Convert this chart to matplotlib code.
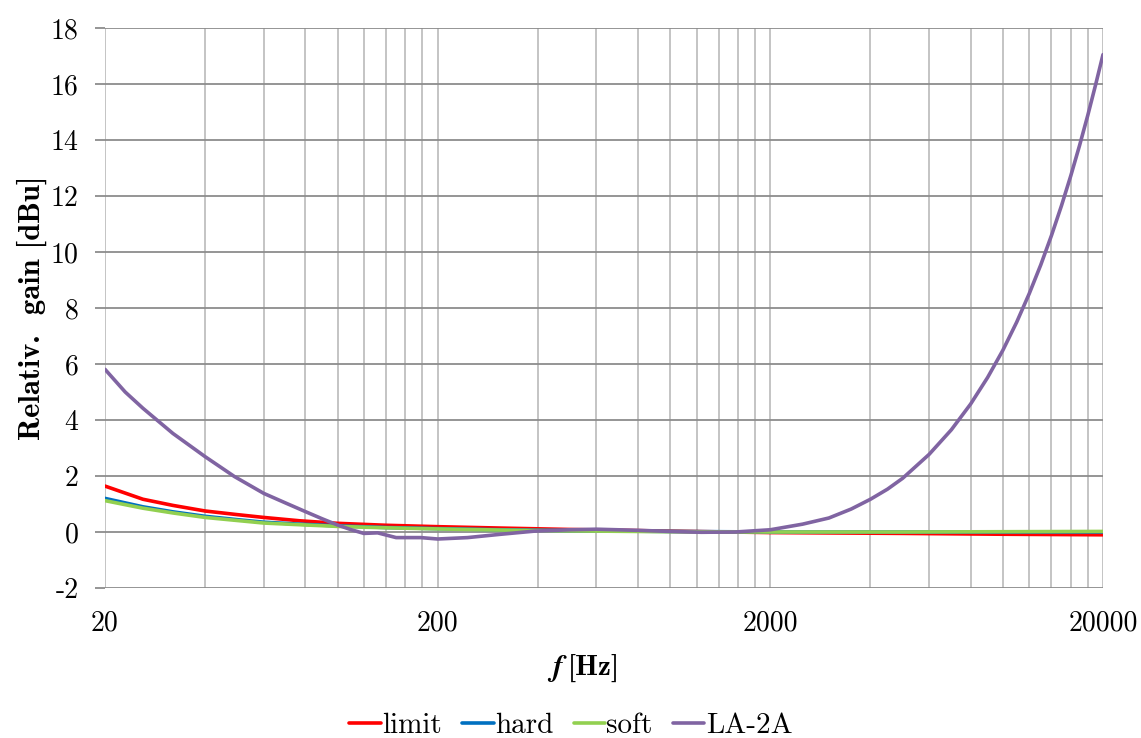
import numpy as np
import matplotlib
matplotlib.use("Agg")
import matplotlib.pyplot as plt
from matplotlib.ticker import FixedLocator, FixedFormatter

# --- DATA ---
freq_lo = [20, 26, 32, 40, 50, 60, 77, 100, 140, 200, 310, 500, 1000, 2000, 5000, 10000, 20000]
limit = [1.64, 1.17, 0.95, 0.75, 0.62, 0.52, 0.40, 0.31, 0.24, 0.19, 0.14, 0.09, 0.03, -0.02, -0.05, -0.08, -0.10]
hard = [1.20, 0.90, 0.72, 0.56, 0.44, 0.35, 0.28, 0.22, 0.16, 0.12, 0.08, 0.05, 0.02, 0.00, 0.00, 0.00, 0.00]
soft = [1.12, 0.85, 0.68, 0.52, 0.41, 0.32, 0.26, 0.20, 0.15, 0.11, 0.07, 0.04, 0.01, 0.00, 0.00, 0.01, 0.02]

freq_la = [20, 23, 26, 32, 40, 49, 60, 70, 80, 90, 100, 110, 120, 132, 150, 178, 200,
           246, 310, 390, 500, 600, 800, 1000, 1240, 1570, 2000, 2500, 3000, 3500, 4000,
           4500, 5000, 6000, 7000, 8000, 9000, 10000, 11000, 12000, 13000, 14000, 15000,
           16000, 17000, 18000, 19000, 20000]
la2a = [5.81, 5.00, 4.42, 3.52, 2.69, 1.98, 1.38, 1.03, 0.73, 0.47, 0.25, 0.08, -0.05, -0.03,
        -0.20, -0.20, -0.25, -0.20, -0.08, 0.03, 0.08, 0.10, 0.06, 0.02, -0.01, 0.00, 0.08,
        0.28, 0.50, 0.82, 1.17, 1.53, 1.92, 2.77, 3.65, 4.57, 5.52, 6.49, 7.49, 8.51, 9.54,
        10.59, 11.65, 12.72, 13.80, 14.88, 15.97, 17.05]

series = [("limit", freq_lo, limit, "#FF0000"),
          ("hard", freq_lo, hard, "#0070C0"),
          ("soft", freq_lo, soft, "#92D050"),
          ("LA-2A", freq_la, la2a, "#8064A2")]

x_major = [20, 200, 2000, 20000]
y_ticks = list(range(-2, 19, 2))

plt.rcParams['font.family'] = ['cmr10', 'DejaVu Serif']
plt.rcParams['axes.unicode_minus'] = False

W, H = 1141, 738
fig = plt.figure(figsize=(W / 100, H / 100), dpi=100)
ax = fig.add_axes([105 / W, 1 - 588 / H, (1103 - 105) / W, (588 - 28) / H])

for name, fx, fy, col in series:
    ax.plot(fx, fy, color=col, lw=2.6, label=name, solid_capstyle='round')

ax.set_xscale('log')
ax.set_xlim(20, 20000)
ax.set_ylim(-2, 18)

# vertical grid at every 20*k*10^n
minor = [m * d for d in [20, 200, 2000] for m in range(1, 10)] + [20000]
ax.xaxis.set_major_locator(FixedLocator(x_major))
ax.xaxis.set_major_formatter(FixedFormatter([str(v) for v in x_major]))
ax.xaxis.set_minor_locator(FixedLocator(minor))
ax.xaxis.set_minor_formatter(FixedFormatter([""] * len(minor)))
ax.set_yticks(y_ticks)
ax.set_yticklabels([str(v) for v in y_ticks])

ax.grid(True, which='both', axis='x', color='#BFBFBF', lw=1.3)
ax.grid(True, which='major', axis='y', color='#8C8C8C', lw=1.3)
ax.set_axisbelow(True)
for s in ax.spines.values():
    s.set_visible(False)

ax.tick_params(axis='x', which='both', length=0, pad=16, labelsize=20)
ax.tick_params(axis='y', length=7, width=1.3, color='#8C8C8C', pad=12, labelsize=20)

ax.set_ylabel('Relativ.  gain [dBu]', fontfamily='cmb10', fontsize=22, labelpad=3)

# x label: bold italic f + bold [Hz]
fig.text(562 / W, 1 - 668 / H, 'f', family='STIXGeneral', weight='bold', style='italic',
         fontsize=22, ha='right', va='center')
fig.text(568 / W, 1 - 668 / H, '[Hz]', family='cmb10', fontsize=21, ha='left', va='center')

fig.legend(loc='center', bbox_to_anchor=(571 / W, 1 - 726 / H), ncol=4, frameon=False,
           fontsize=21, handlelength=1.07, handletextpad=0.05, columnspacing=0.7,
           borderpad=0, borderaxespad=0)

plt.savefig('out.png', dpi=100)
